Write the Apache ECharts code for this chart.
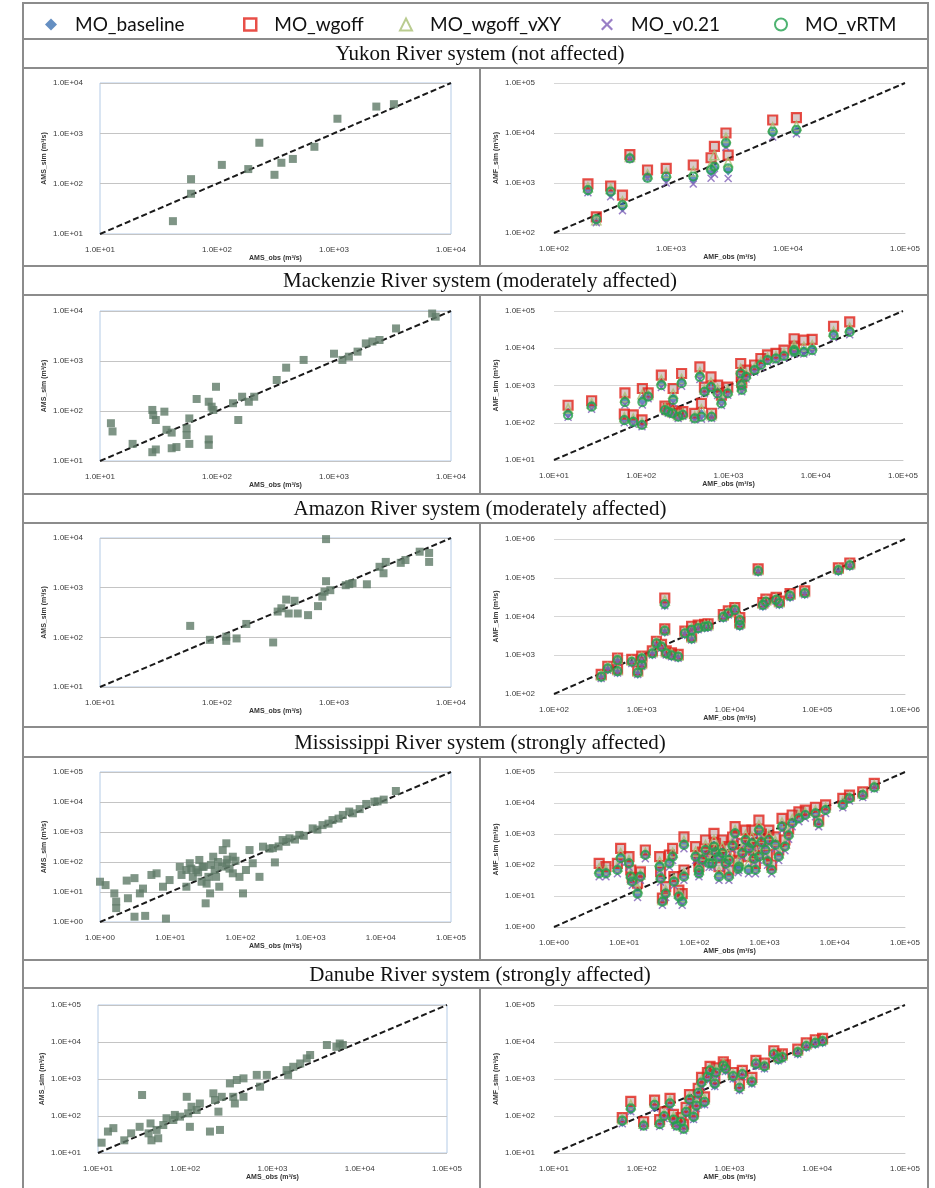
<!DOCTYPE html>
<html><head><meta charset="utf-8">
<script src="https://cdn.jsdelivr.net/npm/echarts@6/dist/echarts.min.js"></script>
<style>html,body{margin:0;padding:0;background:#fff}#c{width:935px;height:1188px}</style>
</head><body><div id="c"></div>
<script>
// ---------- DATA ----------
const models = ['MO_baseline','MO_wgoff','MO_wgoff_vXY','MO_v0.21','MO_vRTM'];
const rivers = ['Yukon River system (not affected)','Mackenzie River system (moderately affected)','Amazon River system (moderately affected)','Mississippi River system (strongly affected)','Danube River system (strongly affected)'];
const leftRange  = [[10,1e4],[10,1e4],[10,1e4],[1,1e5],[10,1e5]];
const rightRange = [[100,1e5],[10,1e5],[100,1e6],[1,1e5],[10,1e5]];

// Yukon
const yukObs = [42,60,60,110,185,230,310,355,445,680,1070,2300,3250];
const yukSim = [18,123,63,236,195,650,150,260,310,540,1950,3400,3800];
const yukFObs  = [195,230,305,385,445,630,910,1550,2200,2350,2950,3080,7400,11800];
const yukFBase = [700,175,620,330,3200,1350,1250,1200,1700,2000,6000,1800,10000,11000];
const yukFWg   = [960,210,870,570,3700,1820,1960,2290,3200,5400,10000,3600,18200,20300];
const yukFXY   = [820,180,760,430,3300,1500,1600,1700,2300,3600,8000,2600,13000,14000];
const yukFV21  = [640,160,530,280,3000,1250,1000,950,1240,1500,5200,1230,8300,9600];
const yukFRtm  = [720,190,670,360,3100,1260,1350,1350,1820,2130,6300,1960,10700,11500];

// Mackenzie
const mckObs = [12.4,12.8,19,28,28.5,30,28,30,35.5,37,41,41,45,55,55,58,58,67,85,85,85,90,98,93,137,152,164,187,208,324,390,550,1000,1180,1340,1590,1870,2130,2450,3390,6900,7400];
const mckSim = [57,39,22,105,83,66,15,17,97,42,37,18,19,33,45,71,22,174,153,27,21,122,305,105,143,66,193,153,193,417,735,1050,1400,1050,1220,1540,2250,2450,2630,4480,8900,7700];
const mckFObs  = [14.5,27,65,64,81,102,103,120,170,187,204,232,228,265,290,300,410,470,490,530,630,640,750,830,980,1380,1400,1420,1590,1990,2350,2800,3500,4330,5650,5700,7300,9100,16000,24500];
const mckFWg   = [295,390,630,170,162,120,830,630,1900,280,240,830,210,180,2100,200,178,3170,330,910,1700,180,1020,550,910,3900,1780,1200,2600,3550,5300,6600,7300,8900,18000,11500,16500,17400,39000,51000];
const mckFXY   = [240,330,480,140,130,100,580,560,1400,250,215,600,190,160,1500,180,150,2300,230,780,1200,160,800,420,750,2800,1350,950,2100,3000,4300,5600,6200,7400,12000,9500,11000,12000,28000,36000];
const mckFRtm  = [160,270,360,118,106,87,360,500,1020,220,196,410,178,145,1150,162,131,1700,145,680,910,145,610,330,610,2100,1020,760,1700,2600,3550,4800,5300,6200,8900,8000,7900,8900,22400,27500];
const mckFBase = [180,290,400,125,112,92,420,520,1150,230,200,460,182,150,1300,170,140,1900,170,700,1000,150,660,360,650,2300,1100,820,1800,2750,3800,5000,5600,6600,9600,8600,8500,9500,24000,30000];
const mckFV21  = [140,230,300,100,92,78,300,440,880,200,180,340,165,130,950,150,120,1450,125,600,800,130,540,290,550,1850,900,680,1500,2300,3100,4200,4700,5500,7800,7000,7000,7900,19500,23000];

// Amazon
const amzObs = [59,87,120,120,147,178,302,330,355,390,460,410,490,600,730,795,830,855,855,930,1260,1350,1440,1910,2450,2650,2770,3720,4080,5400,6500,6500];
const amzSim = [170,89,103,85,95,186,79,330,385,575,545,302,302,280,425,660,830,1350,9500,890,1120,1180,1230,1170,2630,1950,3300,3160,3600,5300,5000,3300];
const amzFObs  = [345,410,530,530,770,900,1000,1000,1320,1470,1680,1830,1830,1900,2180,2600,3100,3700,3700,4400,5200,5700,8500,9700,11500,13100,13100,21200,24000,26000,34000,37000,49000,72000,174000,235000];
const amzFRtm  = [280,460,750,390,680,355,830,560,1120,2030,1660,21000,4300,1120,1000,920,3700,2730,4500,5000,5500,5640,9800,12000,14800,8100,6000,150000,19900,24000,27000,22000,34000,40000,158000,210000];
const amzFWg   = [320,520,850,440,780,400,950,640,1300,2300,1900,30000,4800,1300,1150,1050,4200,3100,5600,6000,6300,6500,11200,14000,17000,9300,7000,170000,23000,28000,31000,25000,39000,46000,180000,240000];
const amzFXY   = [300,490,800,410,730,380,890,600,1200,2150,1780,26000,4500,1200,1080,980,3950,2900,5000,5500,5900,6000,10500,13000,16000,8700,6500,160000,21500,26000,29000,23500,36500,43000,170000,225000];
const amzFBase = [270,440,720,370,650,340,800,540,1080,1950,1600,20000,4100,1080,960,890,3550,2620,4300,4800,5300,5400,9400,11500,14200,7800,5800,145000,19000,23000,26000,21000,32500,38500,152000,205000];
const amzFV21  = [250,410,670,350,610,320,760,510,1020,1850,1520,19000,3900,1020,910,840,3350,2480,4100,4550,5000,5100,8900,10900,13500,7400,5500,138000,18000,21800,24600,19900,30800,36500,145000,195000];

// Mississippi
const msObs = [1.0,1.2,1.6,1.7,1.7,2.4,2.5,3.1,3.1,4.4,3.7,4.1,5.4,6.4,7.9,8.7,9.8,13.7,14.5,17,19,21,23.6,26,28,32,35,37,41,43,50,56,63,78,97,109,135,150,187,210,290,310,400,500,690,1070,1480,2050,2880,3550,4000,6200,8100,16400,17,29,45,78,33,120,63,260,350,450,600,800,1250,1800,2500,9000,11000,5000,20,25,30,38,48,55,65,70,85];
const msSim = [22,17,9,4.8,2.9,24,6.2,29,1.5,1.6,9,13,37,42,15,1.3,25,69,37,15,91,32,54,117,22,4.2,32,9,150,54,15,250,91,42,32,9,250,91,32,325,290,97,540,615,800,1320,1700,2500,3700,4800,4200,8600,10200,23300,54,69,32,150,19,54,420,280,330,470,560,750,1200,1900,2800,10500,12000,5800,60,45,70,80,100,70,120,60,110];
const msFObs  = [4.4,5.5,8,8.9,11.7,12.4,13,15.5,17,20,32,33,35,39,44,49,51,60,67,71,71,104,116,144,180,190,224,250,310,380,430,535,590,660,830,740,1030,1420,1770,2470,3080,3800,5300,5900,7400,13000,16200,25000,36500,116,162,224,310,480,830,1150,1590,1260,1950,130,200,280,350,420,600,700,900,1100,2200];
const msFWg   = [113,88,113,345,185,69,40,26,60,305,185,61,8.5,20,210,345,42,15.5,12,810,69,390,145,640,305,1050,88,640,390,1730,240,1340,185,1340,2800,113,640,810,3200,4100,5200,5900,7300,2800,8700,14200,18000,23000,43000,88,185,305,69,500,390,1340,305,100,640,260,500,200,800,140,700,300,1000,220,1500];
const msFRtm  = [54,54,69,165,113,42,29,12,42,210,88,37,6.6,12,113,185,29,9.5,6.6,445,42,185,69,305,113,390,42,240,145,1050,88,640,69,500,1340,69,305,445,1730,2220,3200,4100,4650,2220,5900,8700,14200,18000,32000,54,113,185,42,240,185,640,185,69,390,150,260,110,420,75,350,160,550,130,900];
const msFXY   = [78,70,88,240,145,54,34,18,50,250,128,47,7.5,15.5,155,250,35,12,9,600,54,270,100,440,185,640,61,390,240,1350,145,930,113,820,1940,88,440,600,2350,3000,4100,4900,5800,2500,7200,11100,16000,20300,37000,69,145,240,54,350,270,930,240,83,500,200,360,150,580,100,500,220,740,170,1160];
const msFBase = [60,58,75,180,120,46,31,13,46,225,95,40,7,13,120,200,31,10,7,480,46,200,75,330,120,420,46,260,160,1100,95,690,75,540,1450,75,330,480,1850,2350,3400,4300,4900,2300,6200,9100,14800,18800,33500,58,120,200,46,260,200,690,200,75,420,160,280,120,450,80,380,170,590,140,960];
const msFV21  = [42,42,52,125,85,32,22,9,32,160,66,28,5,9,85,140,22,7,5,335,32,140,52,230,85,290,32,180,110,800,66,480,52,375,1000,52,230,335,1300,1700,2500,3200,3600,1700,4600,7000,11500,15000,28000,42,85,140,32,180,140,480,140,52,290,112,195,82,315,56,260,120,410,98,680];

// Danube
const dnObs = [11,13,15,20,24,30,32,38,40,41,47,49,56,61,73,76,87,104,108,113,118,135,147,192,210,219,240,250,262,325,355,370,390,465,465,660,720,860,1450,1510,1730,2080,2470,2700,4200,5400,5900,6400];
const dnSim = [19,38,47,22,34,51,370,34,63,22,42,25,57,87,78,107,96,330,118,51,178,145,218,38,410,270,131,42,330,760,330,218,940,1040,330,1290,620,1290,1740,1290,2140,2630,3600,4450,8300,7400,9100,8300];
const dnFObs  = [60,75,105,140,160,180,210,230,250,280,300,320,350,390,420,440,480,520,560,600,680,700,850,900,1100,1300,1400,1800,2000,2500,3200,3600,4000,6000,7500,9500,11500];
const dnFWg   = [90,250,70,270,80,130,300,110,70,90,60,170,380,130,250,560,1100,330,1500,2200,1000,2000,2900,2400,1500,750,1700,1100,3200,2700,5800,4300,4800,6400,9500,11500,12500];
const dnFRtm  = [75,160,55,200,60,100,220,80,55,70,45,130,280,95,190,420,800,240,1150,1700,750,1500,2300,1900,1200,580,1350,850,2600,2200,4700,3500,3900,5300,7800,9500,10500];
const dnFXY   = [82,200,62,235,70,115,260,95,62,80,52,150,330,112,220,490,940,285,1320,1950,870,1750,2600,2150,1350,660,1520,970,2900,2450,5200,3900,4350,5800,8600,10500,11500];
const dnFBase = [70,150,58,180,62,95,200,78,58,68,48,120,250,90,175,380,720,220,1050,1550,690,1380,2100,1750,1100,540,1250,800,2400,2050,4400,3300,3700,5000,7400,9000,10000];
const dnFV21  = [62,130,50,165,52,85,180,70,50,60,40,110,230,80,160,350,650,200,950,1400,630,1250,1900,1600,1000,490,1150,730,2200,1900,4100,3100,3450,4700,7000,8600,9500];

const leftObs = [yukObs, mckObs, amzObs, msObs, dnObs];
const leftSim = [yukSim, mckSim, amzSim, msSim, dnSim];
const rightObs = [yukFObs, mckFObs, amzFObs, msFObs, dnFObs];
const rightSim = {
  'MO_baseline':  [yukFBase, mckFBase, amzFBase, msFBase, dnFBase],
  'MO_wgoff':     [yukFWg, mckFWg, amzFWg, msFWg, dnFWg],
  'MO_wgoff_vXY': [yukFXY, mckFXY, amzFXY, msFXY, dnFXY],
  'MO_v0.21':     [yukFV21, mckFV21, amzFV21, msFV21, dnFV21],
  'MO_vRTM':      [yukFRtm, mckFRtm, amzFRtm, msFRtm, dnFRtm]
};

// ---------- LAYOUT / STYLE ----------
const LG = [[100,83,351,151],[100,311,351,150],[100,538,351,149],[100,772,351,150],[98,1005,349,148]];
const RG = [[554,83,351,150],[554,311,349,149],[554,539,351,155],[554,772,351,155],[554,1005,351,148]];
const titleY = [54,281,509,743,975];
const hLines = [39,68,266,295,494,523,727,757,960,988];
const vSegs = [[68,266],[295,494],[523,727],[757,960],[988,1190]];
const XPATH = 'path://M0,1.3L1.3,0L5,3.7L8.7,0L10,1.3L6.3,5L10,8.7L8.7,10L5,6.3L1.3,10L0,8.7L3.7,5Z';
const mStyle = {
  'MO_baseline':  {symbol:'diamond', symbolSize:[9,11], itemStyle:{color:'#3f73b3'}},
  'MO_wgoff':     {symbol:'rect', symbolSize:9, itemStyle:{color:'rgba(120,60,60,0.35)', borderColor:'#e2231a', borderWidth:2.2}},
  'MO_wgoff_vXY': {symbol:'triangle', symbolSize:9, itemStyle:{color:'rgba(255,255,255,0)', borderColor:'#a9bf74', borderWidth:1.6}},
  'MO_v0.21':     {symbol:XPATH, symbolSize:8, itemStyle:{color:'#7f5fb8'}},
  'MO_vRTM':      {symbol:'circle', symbolSize:8, itemStyle:{color:'rgba(255,255,255,0)', borderColor:'#22a04e', borderWidth:2.2}}
};
const legendX = [40, 238, 394, 596, 769];

const fmtE = v => { const e = Math.round(Math.log10(v)); return '1.0E' + (e < 0 ? '-' : '+') + String(Math.abs(e)).padStart(2, '0'); };
const lab = {fontSize:8, color:'#3a3a3a', fontFamily:'Liberation Sans', formatter:fmtE};
const nameTS = {fontSize:7, fontWeight:'bold', color:'#333', fontFamily:'Liberation Sans'};

const grid = [], xAxis = [], yAxis = [], series = [];
for (let i = 0; i < 5; i++) {
  [[LG[i], leftRange[i], true], [RG[i], rightRange[i], false]].forEach(([g, r, isLeft]) => {
    const gi = grid.length;
    grid.push({left:g[0], top:g[1], width:g[2], height:g[3], show:isLeft, borderColor:'#b4cbe6', borderWidth:1, backgroundColor:'transparent'});
    xAxis.push({type:'log', logBase:10, gridIndex:gi, min:r[0], max:r[1],
      axisLine:{show:!isLeft, lineStyle:{color:'#c8c8c8'}}, axisTick:{show:false}, splitLine:{show:false},
      axisLabel:Object.assign({margin:12}, lab),
      name:isLeft ? 'AMS_obs (m³/s)' : 'AMF_obs (m³/s)', nameLocation:'middle', nameGap:21, nameTextStyle:nameTS});
    yAxis.push({type:'log', logBase:10, gridIndex:gi, min:r[0], max:r[1],
      axisLine:{show:false}, axisTick:{show:false},
      splitLine:{show:true, lineStyle:{color: isLeft ? '#c4c4c4' : '#d6d6d6', width:1}},
      axisLabel:Object.assign({margin: isLeft ? 17 : 19}, lab),
      name:isLeft ? 'AMS_sim (m³/s)' : 'AMF_sim (m³/s)', nameLocation:'middle', nameGap: isLeft ? 52 : 54, nameTextStyle:nameTS});
    series.push({type:'line', name:'1:1', xAxisIndex:gi, yAxisIndex:gi, data:[[r[0], r[0]], [r[1], r[1]]],
      symbol:'none', silent:true, z:1, lineStyle:{color:'#1a1a1a', width:2, type:[6,3]}});
    if (isLeft) {
      series.push({type:'scatter', name:'AMS', xAxisIndex:gi, yAxisIndex:gi, z:2, symbol:'rect', symbolSize:8,
        itemStyle:{color:'#5f7a68'}, data:leftObs[i].map((o, j) => [o, leftSim[i][j]])});
    } else {
      models.forEach(m => {
        series.push(Object.assign({type:'scatter', name:m, xAxisIndex:gi, yAxisIndex:gi, z:2,
          data:rightObs[i].map((o, j) => [o, rightSim[m][i][j]])}, mStyle[m]));
      });
    }
  });
}

const graphic = [];
graphic.push({type:'rect', shape:{x:23, y:3, width:905, height:1190}, style:{fill:'none', stroke:'#8c8c8c', lineWidth:2}, silent:true});
hLines.forEach(y => graphic.push({type:'line', shape:{x1:23, y1:y, x2:928, y2:y}, style:{stroke:'#8c8c8c', lineWidth:2}, silent:true}));
vSegs.forEach(s => graphic.push({type:'line', shape:{x1:480, y1:s[0], x2:480, y2:s[1]}, style:{stroke:'#8c8c8c', lineWidth:2}, silent:true}));
rivers.forEach((t, i) => graphic.push({type:'text', x:480, y:titleY[i], silent:true,
  style:{text:t, font:'21px "Liberation Serif", "DejaVu Serif", serif', fill:'#111', textAlign:'center', textVerticalAlign:'middle'}}));

const legend = models.map((m, k) => ({
  data:[m === 'MO_wgoff' ? {name:m, itemStyle:{color:'rgba(255,255,255,0)', borderColor:'#e2231a', borderWidth:2.5}} : m],
  left:legendX[k], top:10, itemWidth:12, itemHeight:12,
  selectedMode:false, textStyle:{fontSize:19, color:'#111', fontFamily:'Lato, "Liberation Sans", sans-serif', padding:[0,0,0,13]}}));

const chart = echarts.init(document.getElementById('c'), null, {renderer:'canvas'});
chart.setOption({animation:false, backgroundColor:'#fff', grid, xAxis, yAxis, series, legend, graphic});
</script></body></html>
